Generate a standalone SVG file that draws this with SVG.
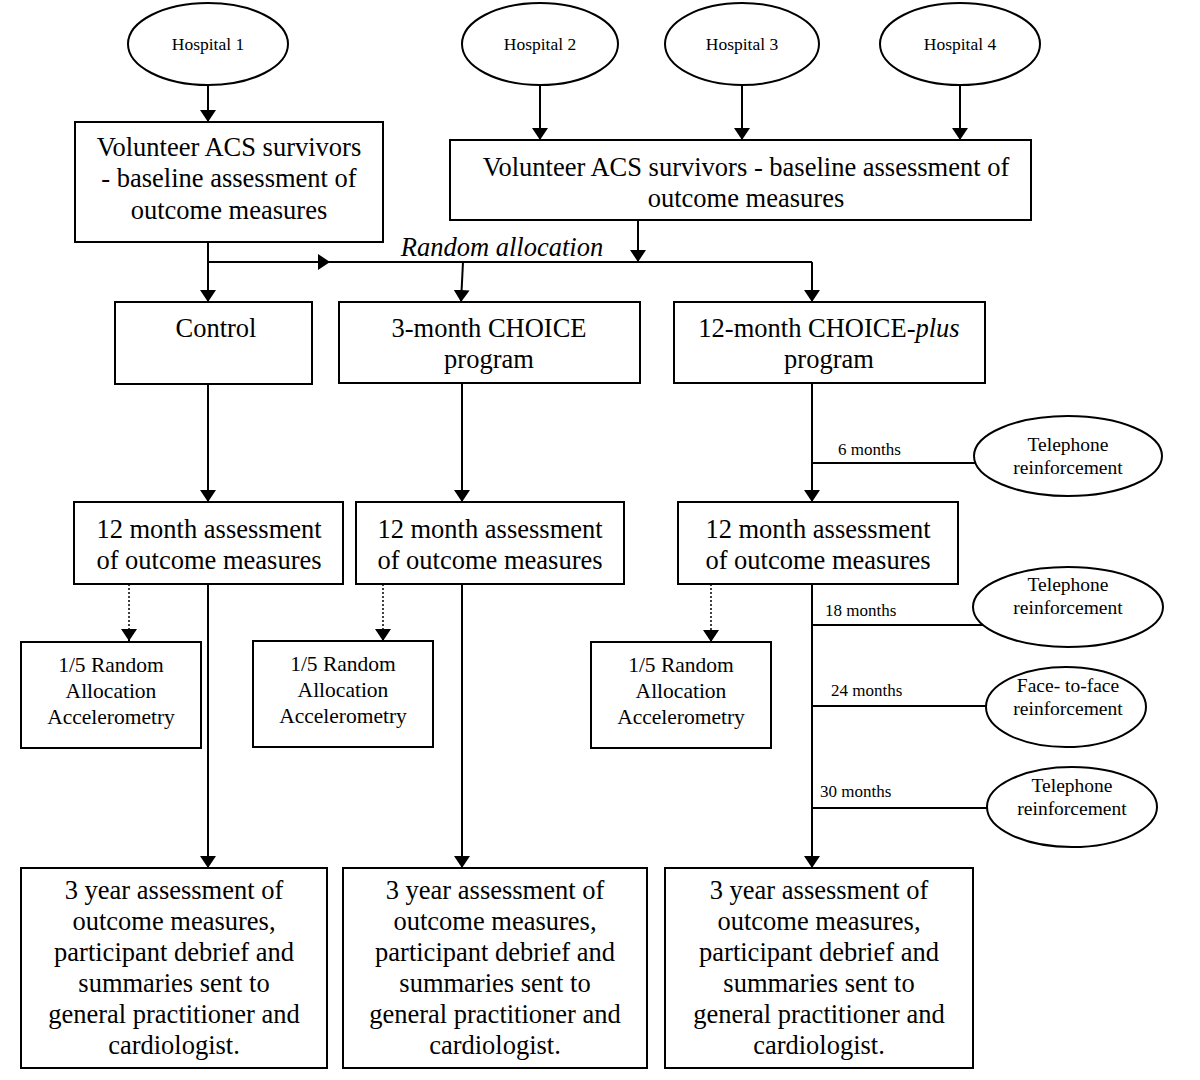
<svg xmlns="http://www.w3.org/2000/svg" width="1200" height="1080" viewBox="0 0 1200 1080">
<defs>
<marker id="ah" viewBox="0 0 12 16" refX="12" refY="8" markerWidth="12" markerHeight="16" markerUnits="userSpaceOnUse" orient="auto"><path d="M0,0 L12,8 L0,16 Z" fill="#000"/></marker>
<style>
.b{fill:#fff;stroke:#000;stroke-width:2}
.l{fill:none;stroke:#000;stroke-width:2}
.d{fill:none;stroke:#000;stroke-width:1.5;stroke-dasharray:2 2}
text{font-family:"Liberation Serif","Times New Roman",serif;fill:#000;text-anchor:middle}
.t{font-size:26.5px}
.h{font-size:17.5px}
.s{font-size:21.5px}
.e{font-size:19.5px}
.m{font-size:17px;text-anchor:start}
</style>
</defs>
<rect width="1200" height="1080" fill="#fff"/>
<g id="connectors">
<path class="l" d="M208,85 V122" marker-end="url(#ah)"/>
<path class="l" d="M540,85 V140" marker-end="url(#ah)"/>
<path class="l" d="M742,85 V140" marker-end="url(#ah)"/>
<path class="l" d="M960,85 V140" marker-end="url(#ah)"/>
<path class="l" d="M208,242 V302" marker-end="url(#ah)"/>
<path class="l" d="M208,262 H330" marker-end="url(#ah)"/>
<path class="l" d="M320,262 H812"/>
<path class="l" d="M638,220 V262" marker-end="url(#ah)"/>
<path class="l" d="M463,262 L461,302" marker-end="url(#ah)"/>
<path class="l" d="M812,262 V302" marker-end="url(#ah)"/>
<path class="l" d="M208,384 V502" marker-end="url(#ah)"/>
<path class="l" d="M462,383 V502" marker-end="url(#ah)"/>
<path class="l" d="M812,383 V502" marker-end="url(#ah)"/>
<path class="l" d="M812,463 H975"/>
<path class="d" d="M129,584 V641"/><path class="l" d="M129,630 V641" marker-end="url(#ah)" stroke-width="0.1"/>
<path class="d" d="M383,584 V641"/><path class="l" d="M383,630 V641" marker-end="url(#ah)" stroke-width="0.1"/>
<path class="d" d="M711,584 V642"/><path class="l" d="M711,630 V642" marker-end="url(#ah)" stroke-width="0.1"/>
<path class="l" d="M208,584 V868" marker-end="url(#ah)"/>
<path class="l" d="M462,584 V868" marker-end="url(#ah)"/>
<path class="l" d="M812,584 V868" marker-end="url(#ah)"/>
<path class="l" d="M812,625 H985"/>
<path class="l" d="M812,706 H986"/>
<path class="l" d="M812,808 H987"/>
</g>
<g id="hospital1"><ellipse class="b" cx="208" cy="44" rx="80" ry="41"/><text class="h" x="208" y="50">Hospital 1</text></g>
<g id="hospital2"><ellipse class="b" cx="540" cy="44" rx="78" ry="41"/><text class="h" x="540" y="50">Hospital 2</text></g>
<g id="hospital3"><ellipse class="b" cx="742" cy="44" rx="77" ry="41"/><text class="h" x="742" y="50">Hospital 3</text></g>
<g id="hospital4"><ellipse class="b" cx="960" cy="44" rx="80" ry="41"/><text class="h" x="960" y="50">Hospital 4</text></g>
<g id="volunteer1"><rect class="b" x="75" y="122" width="308" height="120"/>
<text class="t" x="229" y="156">Volunteer ACS survivors</text>
<text class="t" x="229" y="187">- baseline assessment of</text>
<text class="t" x="229" y="219">outcome measures</text></g>
<g id="volunteer2"><rect class="b" x="450" y="140" width="581" height="80"/>
<text class="t" x="746" y="176">Volunteer ACS survivors - baseline assessment of</text>
<text class="t" x="746" y="207">outcome measures</text></g>
<g id="random-label"><text class="t" x="502" y="256" font-style="italic">Random allocation</text></g>
<g id="control"><rect class="b" x="115" y="302" width="197" height="82"/><text class="t" x="216" y="337">Control</text></g>
<g id="choice3"><rect class="b" x="339" y="302" width="301" height="81"/>
<text class="t" x="489" y="337">3-month CHOICE</text><text class="t" x="489" y="368">program</text></g>
<g id="choice12"><rect class="b" x="674" y="302" width="311" height="81"/>
<text class="t" x="829" y="337">12-month CHOICE-<tspan font-style="italic">plus</tspan></text><text class="t" x="829" y="368">program</text></g>
<g id="tel6"><ellipse class="b" cx="1068" cy="456" rx="94" ry="40"/>
<text class="e" x="1068" y="451">Telephone</text><text class="e" x="1068" y="474">reinforcement</text></g>
<g id="label6"><text class="m" x="838" y="455">6  months</text></g>
<g id="assess12a"><rect class="b" x="74" y="502" width="269" height="82"/>
<text class="t" x="209" y="538">12 month assessment</text><text class="t" x="209" y="569">of outcome measures</text></g>
<g id="assess12b"><rect class="b" x="356" y="502" width="268" height="82"/>
<text class="t" x="490" y="538">12 month assessment</text><text class="t" x="490" y="569">of outcome measures</text></g>
<g id="assess12c"><rect class="b" x="678" y="502" width="280" height="82"/>
<text class="t" x="818" y="538">12 month assessment</text><text class="t" x="818" y="569">of outcome measures</text></g>
<g id="accel1"><rect class="b" x="21" y="642" width="180" height="106"/>
<text class="s" x="111" y="672">1/5 Random</text><text class="s" x="111" y="698">Allocation</text><text class="s" x="111" y="724">Accelerometry</text></g>
<g id="accel2"><rect class="b" x="253" y="641" width="180" height="106"/>
<text class="s" x="343" y="671">1/5 Random</text><text class="s" x="343" y="697">Allocation</text><text class="s" x="343" y="723">Accelerometry</text></g>
<g id="accel3"><rect class="b" x="591" y="642" width="180" height="106"/>
<text class="s" x="681" y="672">1/5 Random</text><text class="s" x="681" y="698">Allocation</text><text class="s" x="681" y="724">Accelerometry</text></g>
<g id="tel18"><ellipse class="b" cx="1068" cy="607" rx="95" ry="40"/>
<text class="e" x="1068" y="591">Telephone</text><text class="e" x="1068" y="614">reinforcement</text></g>
<g id="label18"><text class="m" x="825" y="616">18 months</text></g>
<g id="face24"><ellipse class="b" cx="1066" cy="707" rx="80" ry="40"/>
<text class="e" x="1068" y="692">Face- to-face</text><text class="e" x="1068" y="715">reinforcement</text></g>
<g id="label24"><text class="m" x="831" y="696">24 months</text></g>
<g id="tel30"><ellipse class="b" cx="1072" cy="807" rx="85" ry="40"/>
<text class="e" x="1072" y="792">Telephone</text><text class="e" x="1072" y="815">reinforcement</text></g>
<g id="label30"><text class="m" x="820" y="797">30 months</text></g>
<g id="final1"><rect class="b" x="21" y="868" width="306" height="200"/>
<text class="t" x="174" y="899">3 year assessment of</text><text class="t" x="174" y="930">outcome measures,</text><text class="t" x="174" y="961">participant debrief and</text><text class="t" x="174" y="992">summaries sent to</text><text class="t" x="174" y="1023">general practitioner and</text><text class="t" x="174" y="1054">cardiologist.</text></g>
<g id="final2"><rect class="b" x="343" y="868" width="304" height="200"/>
<text class="t" x="495" y="899">3 year assessment of</text><text class="t" x="495" y="930">outcome measures,</text><text class="t" x="495" y="961">participant debrief and</text><text class="t" x="495" y="992">summaries sent to</text><text class="t" x="495" y="1023">general practitioner and</text><text class="t" x="495" y="1054">cardiologist.</text></g>
<g id="final3"><rect class="b" x="665" y="868" width="308" height="200"/>
<text class="t" x="819" y="899">3 year assessment of</text><text class="t" x="819" y="930">outcome measures,</text><text class="t" x="819" y="961">participant debrief and</text><text class="t" x="819" y="992">summaries sent to</text><text class="t" x="819" y="1023">general practitioner and</text><text class="t" x="819" y="1054">cardiologist.</text></g>
</svg>
